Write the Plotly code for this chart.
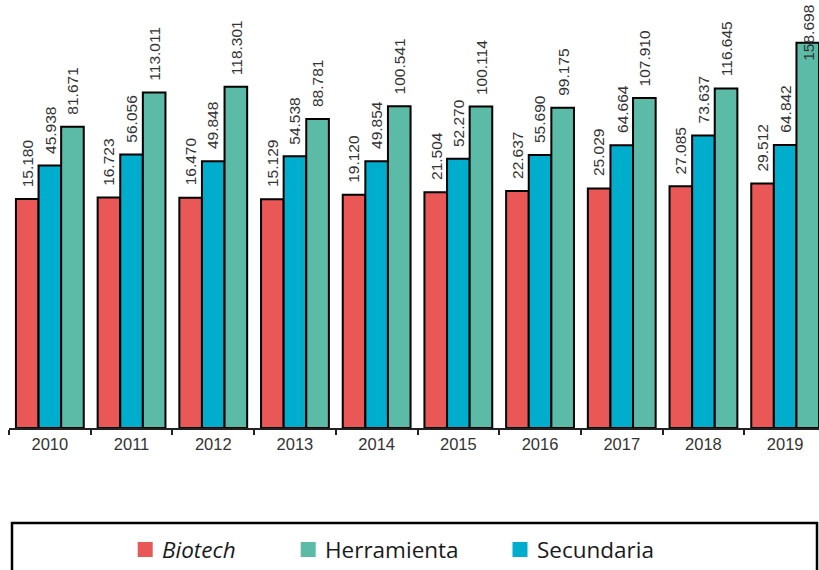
import plotly.graph_objects as go

# Data (values in units; labels use "." as thousands separator)
years = ["2010", "2011", "2012", "2013", "2014", "2015", "2016", "2017", "2018", "2019"]
biotech = [15180, 16723, 16470, 15129, 19120, 21504, 22637, 25029, 27085, 29512]
secundaria = [45938, 56056, 49848, 54538, 49854, 52270, 55690, 64664, 73637, 64842]
herramienta = [81671, 113011, 118301, 88781, 100541, 100114, 99175, 107910, 116645, 158698]

series = [
    ("Biotech", biotech, "#E95757"),
    ("Secundaria", secundaria, "#00ADCC"),
    ("Herramienta", herramienta, "#5CBBA6"),
]
legend_order = ["Biotech", "Herramienta", "Secundaria"]

W, H = 819, 570
ML, MB = 9, 142
plot_w, plot_h = W - ML, H - MB
cat_px = 81.7
y_min, y_max = -195000, 198000
px_per_unit = plot_h / (y_max - y_min)
bargap = 0.17


def fmt(v):
    return f"{v:,}".replace(",", ".")


fig = go.Figure()
for name, vals, color in series:
    fig.add_trace(go.Bar(
        x=years,
        y=[v - y_min for v in vals],
        base=y_min,
        name=name,
        marker=dict(color=color, line=dict(color="#000000", width=2)),
        showlegend=False,
        hoverinfo="skip",
    ))

# Value labels above each bar
bar_w = (1 - bargap) / len(series)
annotations = []
for k, (name, vals, color) in enumerate(series):
    off = (k - (len(series) - 1) / 2) * bar_w
    for i, v in enumerate(vals):
        room = (y_max - v) * px_per_unit
        if room > 72:
            ann = dict(y=v, yanchor="bottom", yshift=10)
        else:
            ann = dict(y=y_max, yanchor="top", yshift=-3)
        annotations.append(dict(
            x=i + off, xref="x", yref="y", text=fmt(v), textangle=-90,
            showarrow=False, xanchor="center",
            font=dict(family="Arial, Liberation Sans, sans-serif", size=15.5, color="#333333"),
            **ann,
        ))

# Legend drawn inside a framed box below the chart
def px_x(p):
    return (p - ML) / plot_w


def px_y(p):
    return (plot_h - p) / plot_h


shapes = [dict(
    type="rect", xref="paper", yref="paper",
    x0=px_x(12), x1=px_x(817), y0=px_y(523), y1=px_y(620),
    line=dict(color="#000000", width=2.5), fillcolor="rgba(0,0,0,0)",
)]
colors = {n: c for n, _, c in series}
legend_x = {"Biotech": 137.7, "Herramienta": 300.7, "Secundaria": 512.5}
for name in legend_order:
    x0 = legend_x[name]
    shapes.append(dict(
        type="rect", xref="paper", yref="paper",
        x0=px_x(x0), x1=px_x(x0 + 15), y0=px_y(557), y1=px_y(542),
        line=dict(width=0), fillcolor=colors[name],
    ))
    label = f"<i>{name}</i>" if name == "Biotech" else name
    annotations.append(dict(
        x=px_x(x0 + 22), y=px_y(549), xref="paper", yref="paper",
        xanchor="left", yanchor="middle", showarrow=False, text=label,
        font=dict(family="Open Sans, sans-serif", size=22.5, color="#1a1a1a"),
    ))

fig.update_layout(
    width=W, height=H,
    margin=dict(l=ML, r=0, t=0, b=MB, pad=0),
    paper_bgcolor="#ffffff", plot_bgcolor="#ffffff",
    barmode="group", bargap=bargap, bargroupgap=0,
    xaxis=dict(
        type="category", range=[-0.5, -0.5 + plot_w / cat_px],
        showline=True, linecolor="#222222", linewidth=1.5,
        ticks="outside", tickson="boundaries", ticklen=5, tickwidth=1.5, tickcolor="#222222",
        tickfont=dict(family="Arial, Liberation Sans, sans-serif", size=16.5, color="#333333"),
        showgrid=False, zeroline=False, fixedrange=True,
    ),
    yaxis=dict(range=[y_min, y_max], visible=False, showgrid=False, zeroline=False),
    annotations=annotations,
    shapes=shapes,
    showlegend=False,
)

fig.write_html("out.html")
